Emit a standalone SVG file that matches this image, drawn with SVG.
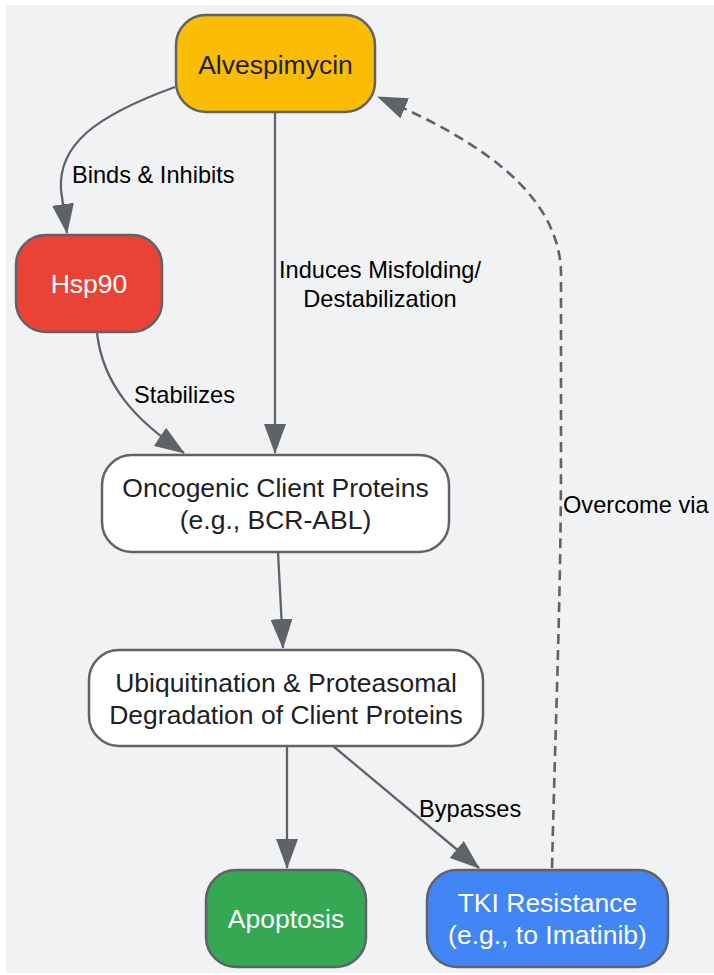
<svg xmlns="http://www.w3.org/2000/svg" width="714" height="975" viewBox="0 0 714 975">
<style>
.node rect{stroke:#5f6368;stroke-width:2.5}
.nt{font-family:"Liberation Sans",Arial,sans-serif;font-size:26.5px;text-anchor:middle;fill:#202124}
.nt.w{fill:#ffffff}
.el{font-family:"Liberation Sans",Arial,sans-serif;font-size:23.6px;fill:#000000}
.edge{fill:none;stroke:#5f6368;stroke-width:2.3}
.dash{stroke-dasharray:10,6;stroke-width:2.6}
</style>
<defs>
<marker id="arr" markerUnits="userSpaceOnUse" markerWidth="30" markerHeight="22" viewBox="0 0 30 22" refX="29" refY="11" orient="auto">
<path d="M0,0 L30,11 L0,22 z" fill="#5f6368"/>
</marker>
</defs>
<rect x="6" y="5" width="708" height="968" fill="#f1f2f4"/>
<g id="connectors">
<path class="edge" d="M175,87 C95,116 58,145 61,190 L67,233" marker-end="url(#arr)"/>
<path class="edge" d="M275,111 L275,453" marker-end="url(#arr)"/>
<path class="edge" d="M97,333 C103,385 135,420 184,453" marker-end="url(#arr)"/>
<path class="edge" d="M278,552 L283,648" marker-end="url(#arr)"/>
<path class="edge" d="M287,746 L287,868" marker-end="url(#arr)"/>
<path class="edge" d="M333,746 L479,868" marker-end="url(#arr)"/>
<path class="edge dash" d="M552,868 C556,700 561,600 561,450 L561,275 C561,195 480,140 378,97" marker-end="url(#arr)"/>
<text class="el" x="72" y="183">Binds &amp; Inhibits</text>
<text class="el" x="380" y="278" text-anchor="middle">Induces Misfolding/</text>
<text class="el" x="380" y="306.5" text-anchor="middle">Destabilization</text>
<text class="el" x="134" y="402.5">Stabilizes</text>
<text class="el" x="419" y="816.5">Bypasses</text>
<text class="el" x="563" y="512.5">Overcome via</text>
</g>
<g id="alvespimycin" class="node">
<rect x="176" y="15" width="199" height="97" rx="30" fill="#fbbc04"/>
<text class="nt" x="275.5" y="74">Alvespimycin</text>
</g>
<g id="hsp90" class="node">
<rect x="16" y="235" width="146" height="97" rx="30" fill="#ea4335"/>
<text class="nt w" x="89" y="293">Hsp90</text>
</g>
<g id="client" class="node">
<rect x="102" y="455" width="347" height="97" rx="30" fill="#ffffff"/>
<text class="nt" x="275.5" y="497">Oncogenic Client Proteins</text>
<text class="nt" x="275.5" y="529.3">(e.g., BCR-ABL)</text>
</g>
<g id="degradation" class="node">
<rect x="89" y="650" width="394" height="96" rx="30" fill="#ffffff"/>
<text class="nt" x="286" y="692.3">Ubiquitination &amp; Proteasomal</text>
<text class="nt" x="286" y="723.5">Degradation of Client Proteins</text>
</g>
<g id="apoptosis" class="node">
<rect x="206" y="870" width="160" height="97" rx="30" fill="#34a853"/>
<text class="nt w" x="286" y="928.3">Apoptosis</text>
</g>
<g id="tki" class="node">
<rect x="427" y="870" width="241" height="97" rx="30" fill="#4285f4"/>
<text class="nt w" x="547.5" y="911.7">TKI Resistance</text>
<text class="nt w" x="547.5" y="943.5">(e.g., to Imatinib)</text>
</g>
</svg>
